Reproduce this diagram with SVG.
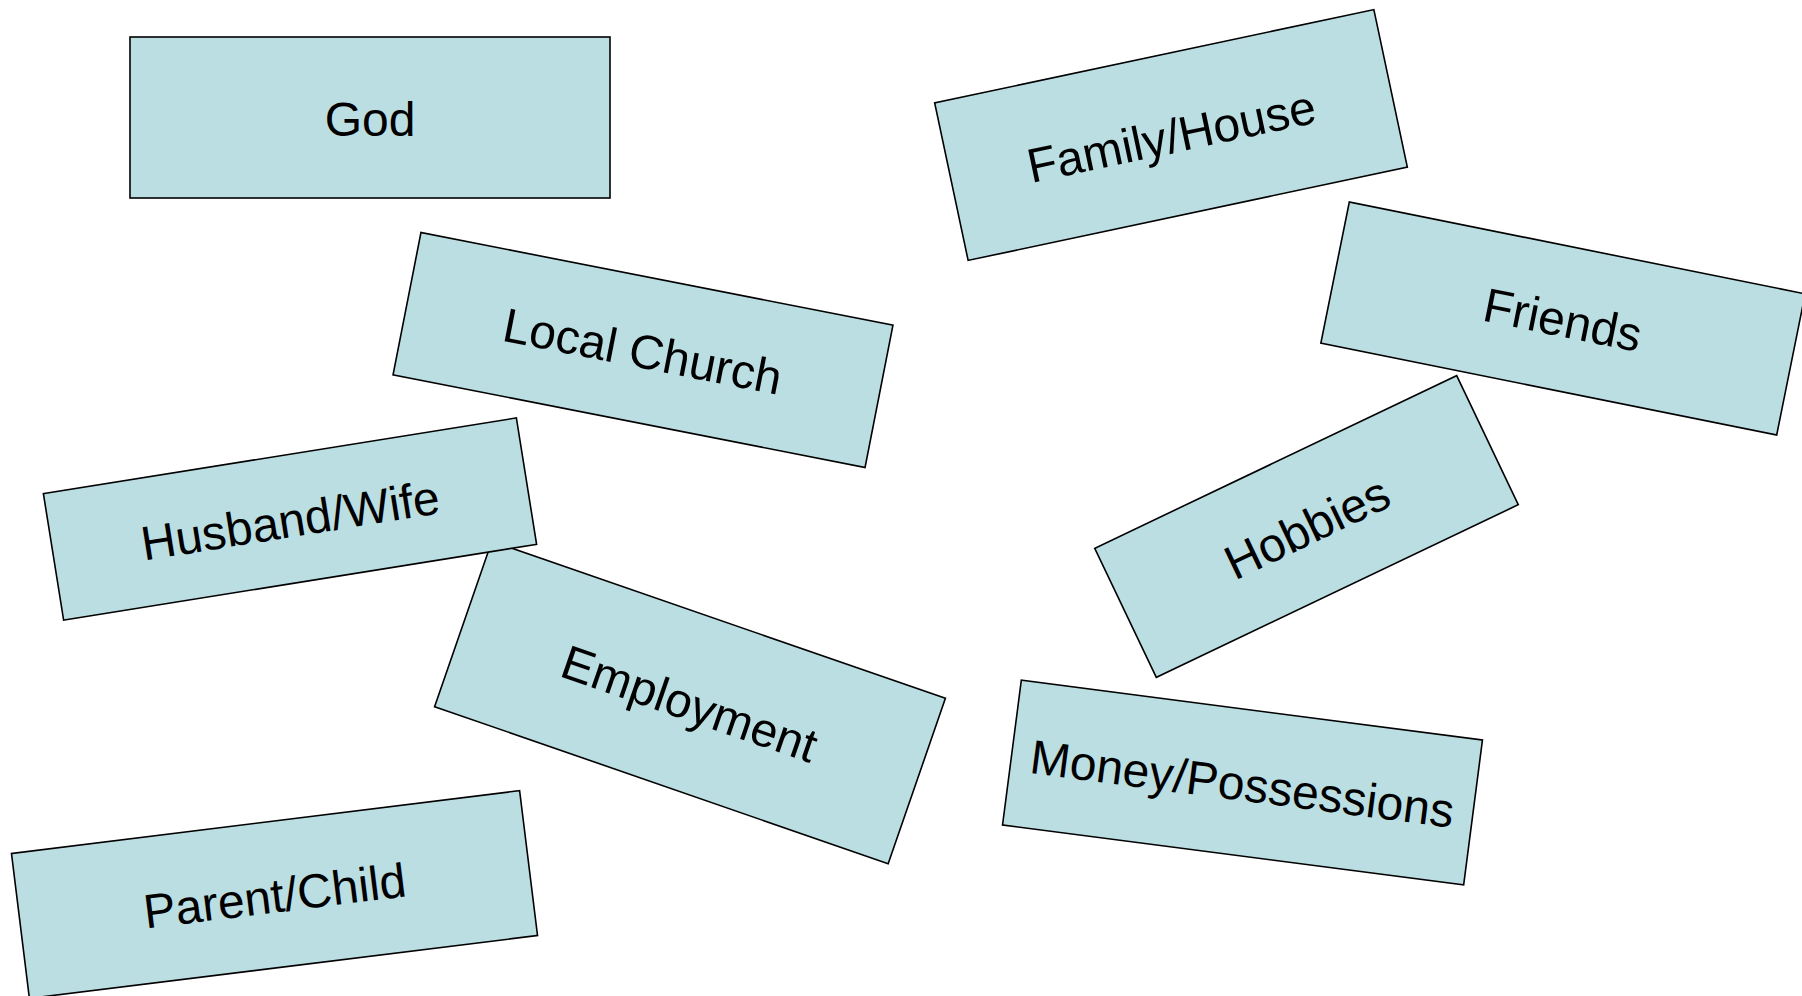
<svg xmlns="http://www.w3.org/2000/svg" width="1802" height="996" viewBox="0 0 1802 996">
<style>
.box{fill:#BBDEE3;stroke:#000;stroke-width:1.6}
.lbl{font-family:"Liberation Sans",Arial,sans-serif;font-size:48px;fill:#000;text-anchor:middle}
</style>
<rect width="1802" height="996" fill="#fff"/>
<g id="connectors"/>
<g id="god">
<rect class="box" x="130" y="37" width="480" height="161"/>
<text class="lbl" x="370" y="136">God</text>
</g>
<g id="family-house" transform="translate(1171,135) rotate(-12)">
<rect class="box" x="-224.5" y="-80.5" width="449" height="161"/>
<text class="lbl" x="0" y="18">Family/House</text>
</g>
<g id="local-church" transform="translate(643,350) rotate(11.1)">
<rect class="box" x="-240.5" y="-72.5" width="481" height="145"/>
<text class="lbl" x="0" y="18">Local Church</text>
</g>
<g id="friends" transform="translate(1563,318.5) rotate(11.4)">
<rect class="box" x="-232.5" y="-72" width="465" height="144"/>
<text class="lbl" x="0" y="18">Friends</text>
</g>
<g id="hobbies" transform="translate(1306.5,526.5) rotate(-25.5)">
<rect class="box" x="-200.5" y="-71.5" width="401" height="143"/>
<text class="lbl" x="0" y="18">Hobbies</text>
</g>
<g id="employment" transform="translate(690,702.5) rotate(19.1)">
<rect class="box" x="-240" y="-87.5" width="480" height="175"/>
<text class="lbl" x="0" y="18">Employment</text>
</g>
<g id="husband-wife" transform="translate(290,519) rotate(-9.1)">
<rect class="box" x="-239.5" y="-64" width="479" height="128"/>
<text class="lbl" x="0" y="18">Husband/Wife</text>
</g>
<g id="money-possessions" transform="translate(1242.5,782.5) rotate(7.4)">
<rect class="box" x="-232.5" y="-73" width="465" height="146"/>
<text class="lbl" x="0" y="18">Money/Possessions</text>
</g>
<g id="parent-child" transform="translate(274.5,894.5) rotate(-7.05)">
<rect class="box" x="-256" y="-73" width="512" height="146"/>
<text class="lbl" x="0" y="18">Parent/Child</text>
</g>
</svg>
